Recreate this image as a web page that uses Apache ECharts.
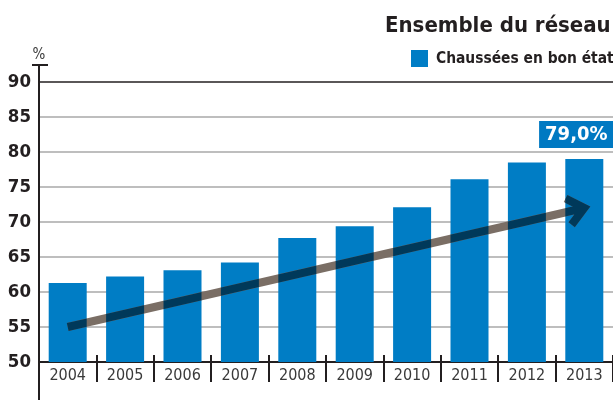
<!DOCTYPE html>
<html><head><meta charset="utf-8">
<script src="https://cdn.jsdelivr.net/npm/echarts@6/dist/echarts.min.js"></script>
<style>html,body{margin:0;padding:0;background:#fff}#c{width:613px;height:400px}</style>
</head><body><div id="c"></div>
<script>
const categories = ['2004','2005','2006','2007','2008','2009','2010','2011','2012','2013'];
const goodCondition = [61.3, 62.2, 63.1, 64.2, 67.7, 69.4, 72.1, 76.1, 78.5, 79.0];
const yTickLabels = ['50','55','60','65','70','75','80','85','90'];
const trendFrom = ['2004', 55];
const trendTo = ['2013', 72];
const titleText = 'Ensemble du réseau';
const legendText = 'Chaussées en bon état';
const unitText = '%';

const FONT = '"DejaVu Sans Condensed", "Liberation Sans Narrow", sans-serif';
const BLUE = '#007dc5';
const BAR_W = 38;
const last = categories.length - 1;
const yMin = Number(yTickLabels[0]);
const yMax = Number(yTickLabels[yTickLabels.length - 1]);
const yStep = Number(yTickLabels[1]) - yMin;

const chart = echarts.init(document.getElementById('c'), null, {renderer: 'canvas'});
chart.setOption({
  backgroundColor: '#fff',
  animation: false,
  title: {
    text: titleText, left: 385, top: 15, padding: 0,
    textStyle: {fontFamily: FONT, fontWeight: 'bold', fontSize: 22, color: '#231f20'}
  },
  legend: {
    data: [legendText], left: 411, top: 50, padding: 0,
    icon: 'rect', itemWidth: 17, itemHeight: 17,
    textStyle: {fontFamily: FONT, fontWeight: 'bold', fontSize: 15.4, color: '#231f20', padding: [1, 0, 0, 3]}
  },
  grid: {left: 39, right: 0, top: 82, bottom: 38, containLabel: false},
  xAxis: [{
    type: 'category', data: categories,
    axisLine: {show: true, lineStyle: {color: '#231f20', width: 2}},
    axisTick: {show: false},
    axisLabel: {fontFamily: FONT, fontSize: 16, color: '#3a3a3a', margin: 6}
  }, {
    type: 'category', data: categories, position: 'bottom', offset: -7,
    axisLine: {show: false},
    axisTick: {show: true, length: 27, interval: 0, lineStyle: {color: '#231f20', width: 2}},
    axisLabel: {show: false}
  }],
  yAxis: {
    type: 'value', min: yMin, max: yMax, interval: yStep,
    name: unitText, nameLocation: 'end', nameGap: 19,
    nameTextStyle: {fontFamily: FONT, fontSize: 15, color: '#3a3a3a', align: 'center'},
    axisLine: {show: true, lineStyle: {color: '#231f20', width: 2}},
    axisTick: {show: false},
    axisLabel: {fontFamily: FONT, fontWeight: 'bold', fontSize: 18.5, color: '#231f20', margin: 8,
      formatter: (v) => yTickLabels[Math.round((v - yMin) / yStep)] || ''},
    splitLine: {show: true, lineStyle: {width: 1.5,
      color: ['#a9a9a9','#a9a9a9','#a9a9a9','#a9a9a9','#a9a9a9','#a9a9a9','#a9a9a9','#a9a9a9','#231f20']}}
  },
  graphic: [
    {type: 'line', shape: {x1: 39, y1: 65, x2: 39, y2: 400}, style: {stroke: '#231f20', lineWidth: 2}, z: 100},
    {type: 'line', shape: {x1: 32, y1: 65, x2: 48, y2: 65}, style: {stroke: '#231f20', lineWidth: 2}, z: 100}
  ],
  series: [{
    name: legendText, type: 'bar', xAxisIndex: 0, barWidth: BAR_W,
    itemStyle: {color: BLUE},
    data: goodCondition.map((v, i) => i === last ? {value: v, label: {show: true}} : v),
    label: {
      show: false, position: 'top', distance: 11, offset: [-8, 0],
      formatter: (p) => p.value.toFixed(1).replace('.', ',') + '%',
      backgroundColor: '#0079c2', color: '#fff', fontFamily: FONT, fontWeight: 'bold', fontSize: 20,
      padding: [4, 6, 3, 6]
    }
  }, {
    type: 'custom', xAxisIndex: 0, clip: false, z: 5,
    data: [[categories.indexOf(trendFrom[0]), trendFrom[1], categories.indexOf(trendTo[0]), trendTo[1]]],
    encode: {x: [0, 2], y: [1, 3]},
    renderItem: function (params, api) {
      const p0 = api.coord([api.value(0), api.value(1)]);
      const p1 = api.coord([api.value(2), api.value(3)]);
      const ang = Math.atan2(p1[1] - p0[1], p1[0] - p0[0]);
      const L = 21, a = 40 * Math.PI / 180, b = ang + Math.PI;
      const h1 = [p1[0] + L * Math.cos(b + a), p1[1] + L * Math.sin(b + a)];
      const h2 = [p1[0] + L * Math.cos(b - a), p1[1] + L * Math.sin(b - a)];
      const d = 'M' + p0[0] + ' ' + p0[1] + 'L' + p1[0] + ' ' + p1[1] +
        'M' + h1[0] + ' ' + h1[1] + 'L' + p1[0] + ' ' + p1[1] + 'L' + h2[0] + ' ' + h2[1];
      const base = {fill: null, lineWidth: 8, lineJoin: 'miter', lineCap: 'butt'};
      const children = [{type: 'path', shape: {pathData: d}, style: Object.assign({stroke: '#7a6e65'}, base)}];
      goodCondition.forEach((v, i) => {
        const top = api.coord([i, v]);
        const bottom = api.coord([i, yMin]);
        children.push({
          type: 'path', shape: {pathData: d},
          style: Object.assign({stroke: '#00395a'}, base),
          clipPath: {type: 'rect', shape: {x: top[0] - BAR_W / 2, y: top[1], width: BAR_W, height: bottom[1] - top[1]}}
        });
      });
      return {type: 'group', children: children};
    }
  }]
});
</script></body></html>
